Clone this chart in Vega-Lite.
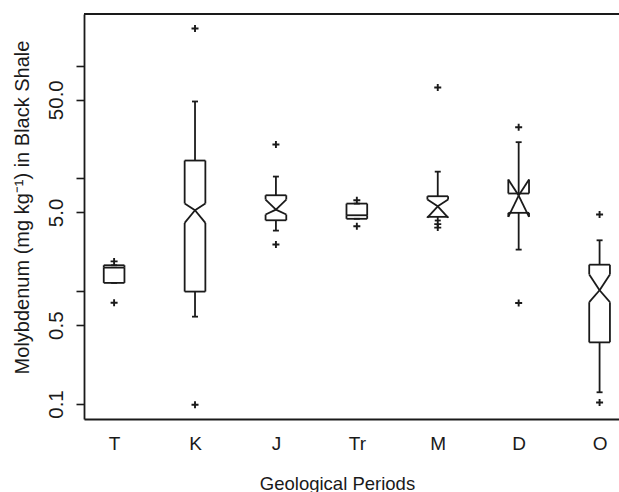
{
  "$schema": "https://vega.github.io/schema/vega-lite/v6.json",
  "width": 535,
  "height": 405,
  "autosize": {"type": "none"},
  "padding": {"left": 84, "top": 14, "right": 0, "bottom": 73},
  "background": "white",
  "config": {
    "view": {"stroke": null},
    "font": "Liberation Sans",
    "axis": {"grid": false, "domainColor": "#1a1a1a", "domainWidth": 1.8, "tickColor": "#1a1a1a", "tickWidth": 1.6, "labelColor": "#1a1a1a", "titleColor": "#1a1a1a", "titleFontWeight": "normal"},
    "rule": {"color": "#1a1a1a", "strokeWidth": 1.8}
  },
  "datasets": {
    "boxes": [
      {"period": "T", "lo": 1.186, "q1": 1.186, "clo": null, "med": 1.62, "chi": null, "q3": 1.70, "hi": 1.70, "notched": false},
      {"period": "K", "lo": 0.595, "q1": 0.993, "clo": 4.04, "med": 5.23, "chi": 6.0, "q3": 14.43, "hi": 48.2, "notched": true},
      {"period": "J", "lo": 3.45, "q1": 4.26, "clo": 4.79, "med": 5.3, "chi": 6.5, "q3": 7.1, "hi": 10.4, "notched": true},
      {"period": "Tr", "lo": 4.39, "q1": 4.39, "clo": null, "med": 4.72, "chi": null, "q3": 5.99, "hi": 5.99, "notched": false},
      {"period": "M", "lo": 4.24, "q1": 4.57, "clo": 4.5, "med": 5.67, "chi": 6.5, "q3": 6.96, "hi": 11.5, "notched": true},
      {"period": "D", "lo": 2.34, "q1": 4.96, "clo": 4.57, "med": 7.06, "chi": 9.8, "q3": 7.36, "hi": 21.0, "notched": true},
      {"period": "O", "lo": 0.127, "q1": 0.352, "clo": 0.8, "med": 1.02, "chi": 1.41, "q3": 1.72, "hi": 2.83, "notched": true}
    ],
    "outliers": [
      {"period": "T", "value": 1.84},
      {"period": "T", "value": 0.79},
      {"period": "K", "value": 214},
      {"period": "K", "value": 0.0985},
      {"period": "J", "value": 20},
      {"period": "J", "value": 2.6},
      {"period": "Tr", "value": 6.41},
      {"period": "Tr", "value": 3.77},
      {"period": "M", "value": 64.2},
      {"period": "M", "value": 3.94},
      {"period": "M", "value": 3.67},
      {"period": "D", "value": 28.5},
      {"period": "D", "value": 0.787},
      {"period": "O", "value": 4.79},
      {"period": "O", "value": 0.103}
    ]
  },
  "layer": [
    {
      "data": {"name": "boxes"},
      "transform": [
        {"calculate": "indexof(['T','K','J','Tr','M','D','O'], datum.period) + 1", "as": "idx"},
        {"calculate": "datum.idx - 0.128", "as": "xl"},
        {"calculate": "datum.idx + 0.128", "as": "xr"},
        {"calculate": "datum.idx - 0.037", "as": "cl"},
        {"calculate": "datum.idx + 0.037", "as": "cr"},
        {"calculate": "datum.notched ? datum.chi : datum.med", "as": "s1"},
        {"calculate": "datum.notched ? datum.clo : datum.med", "as": "s2"}
      ],
      "layer": [
        {
          "mark": "rule",
          "encoding": {
            "x": {"field": "xl", "type": "quantitative",
              "scale": {"domain": [0.628, 7.24], "nice": false, "zero": false},
              "axis": {"title": "Geological Periods", "values": [1, 2, 3, 4, 5, 6, 7],
                "labelExpr": "['T','K','J','Tr','M','D','O'][datum.value - 1]",
                "ticks": false, "labelPadding": 15, "labelFontSize": 19, "labelFont": "Liberation Sans",
                "titleFontSize": 18.5, "titleFont": "Liberation Sans", "titleX": 253, "titleY": 55, "titleBaseline": "top", "titleAnchor": "middle"}},
            "x2": {"field": "xr"},
            "y": {"field": "q3", "type": "quantitative",
              "scale": {"type": "log", "domain": [0.0736, 287.7], "nice": false, "zero": false},
              "axis": {"title": "Molybdenum (mg kg⁻¹) in Black Shale", "values": [0.1, 0.5, 1, 5, 10, 50, 100],
                "labelExpr": "datum.value == 0.1 ? '0.1' : datum.value == 0.5 ? '0.5' : datum.value == 5 ? '5.0' : datum.value == 50 ? '50.0' : ''",
                "tickSize": 8, "labelAngle": -90, "labelAlign": "center", "labelBaseline": "alphabetic", "labelPadding": 14,
                "labelFontSize": 20.5, "labelFont": "Liberation Sans",
                "titleFontSize": 20, "titleFont": "Liberation Sans", "titleAngle": -90, "titleX": -62, "titleY": 193, "titleBaseline": "middle", "titleAlign": "center"}}
          }
        },
        {"mark": "rule", "encoding": {"x": {"field": "xl", "type": "quantitative"}, "x2": {"field": "xr"}, "y": {"field": "q1", "type": "quantitative"}}},
        {"mark": "rule", "encoding": {"x": {"field": "xl", "type": "quantitative"}, "y": {"field": "q3", "type": "quantitative"}, "y2": {"field": "s1"}}},
        {"mark": "rule", "encoding": {"x": {"field": "xr", "type": "quantitative"}, "y": {"field": "q3", "type": "quantitative"}, "y2": {"field": "s1"}}},
        {"mark": "rule", "encoding": {"x": {"field": "xl", "type": "quantitative"}, "y": {"field": "q1", "type": "quantitative"}, "y2": {"field": "s2"}}},
        {"mark": "rule", "encoding": {"x": {"field": "xr", "type": "quantitative"}, "y": {"field": "q1", "type": "quantitative"}, "y2": {"field": "s2"}}},
        {"transform": [{"filter": "datum.notched"}], "mark": "rule", "encoding": {"x": {"field": "xl", "type": "quantitative"}, "x2": {"field": "idx"}, "y": {"field": "chi", "type": "quantitative"}, "y2": {"field": "med"}}},
        {"transform": [{"filter": "datum.notched"}], "mark": "rule", "encoding": {"x": {"field": "xr", "type": "quantitative"}, "x2": {"field": "idx"}, "y": {"field": "chi", "type": "quantitative"}, "y2": {"field": "med"}}},
        {"transform": [{"filter": "datum.notched"}], "mark": "rule", "encoding": {"x": {"field": "xl", "type": "quantitative"}, "x2": {"field": "idx"}, "y": {"field": "clo", "type": "quantitative"}, "y2": {"field": "med"}}},
        {"transform": [{"filter": "datum.notched"}], "mark": "rule", "encoding": {"x": {"field": "xr", "type": "quantitative"}, "x2": {"field": "idx"}, "y": {"field": "clo", "type": "quantitative"}, "y2": {"field": "med"}}},
        {"transform": [{"filter": "!datum.notched"}], "mark": "rule", "encoding": {"x": {"field": "xl", "type": "quantitative"}, "x2": {"field": "xr"}, "y": {"field": "med", "type": "quantitative"}}},
        {"mark": "rule", "encoding": {"x": {"field": "idx", "type": "quantitative"}, "y": {"field": "q3", "type": "quantitative"}, "y2": {"field": "hi"}}},
        {"mark": "rule", "encoding": {"x": {"field": "idx", "type": "quantitative"}, "y": {"field": "q1", "type": "quantitative"}, "y2": {"field": "lo"}}},
        {"mark": "rule", "encoding": {"x": {"field": "cl", "type": "quantitative"}, "x2": {"field": "cr"}, "y": {"field": "hi", "type": "quantitative"}}},
        {"mark": "rule", "encoding": {"x": {"field": "cl", "type": "quantitative"}, "x2": {"field": "cr"}, "y": {"field": "lo", "type": "quantitative"}}}
      ]
    },
    {
      "data": {"name": "outliers"},
      "transform": [
        {"calculate": "indexof(['T','K','J','Tr','M','D','O'], datum.period) + 1", "as": "idx"}
      ],
      "mark": {"type": "point", "shape": "M-1,0L1,0M0,-1L0,1", "size": 49, "filled": false, "stroke": "#1a1a1a", "strokeWidth": 1.9, "opacity": 1},
      "encoding": {
        "x": {"field": "idx", "type": "quantitative"},
        "y": {"field": "value", "type": "quantitative"}
      }
    },
    {
      "data": {"values": [{}]},
      "mark": {"type": "rule", "strokeWidth": 1.8},
      "encoding": {"y": {"datum": 287.7, "type": "quantitative"}}
    }
  ]
}
